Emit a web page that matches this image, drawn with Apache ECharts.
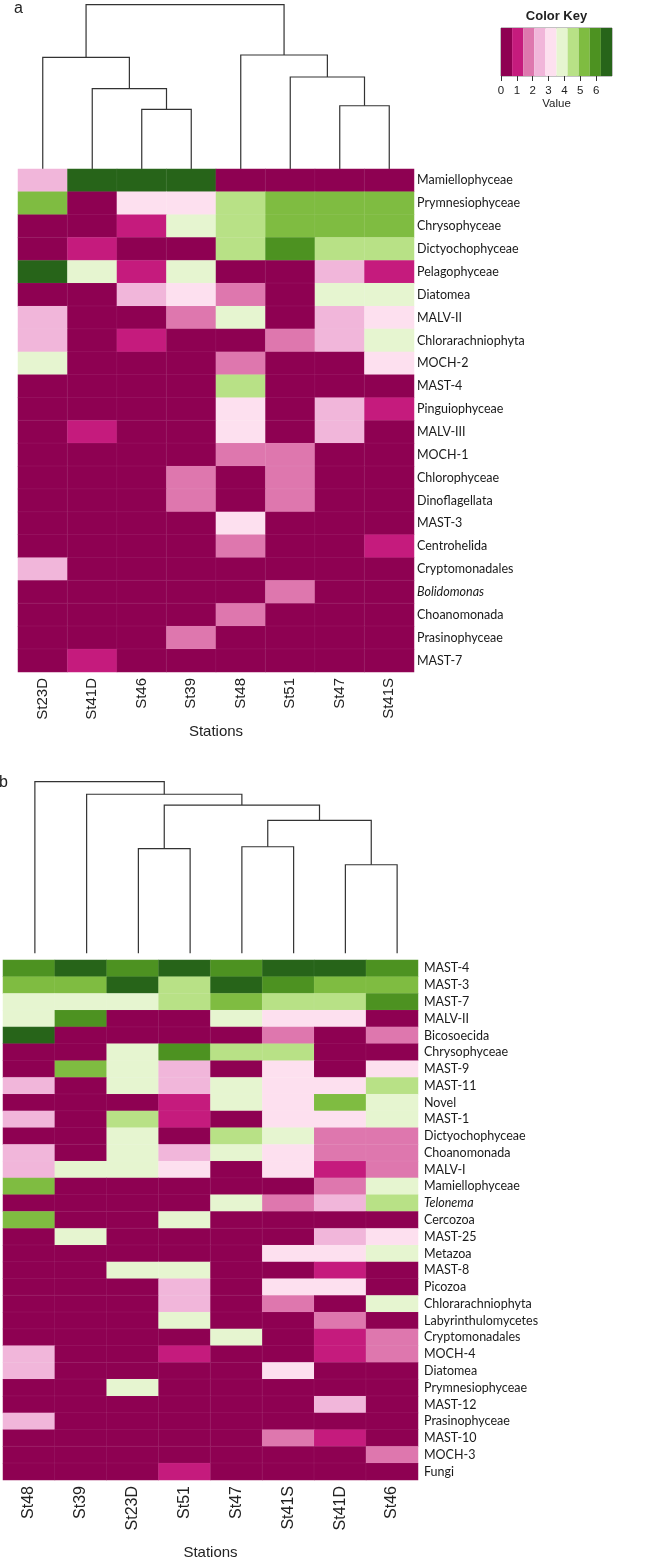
<!DOCTYPE html>
<html>
<head>
<meta charset="utf-8">
<script src="https://cdn.jsdelivr.net/npm/echarts@6/dist/echarts.min.js"></script>
<style>
html,body{margin:0;padding:0;background:#fff;}
#chart{width:664px;height:1561px;}
</style>
</head>
<body>
<div id="chart"></div>
<script>
// ---------- DATA ----------
const stationsA = ['St23D','St41D','St46','St39','St48','St51','St47','St41S'];
const taxaA = ['Mamiellophyceae','Prymnesiophyceae','Chrysophyceae','Dictyochophyceae','Pelagophyceae','Diatomea','MALV-II','Chlorarachniophyta','MOCH-2','MAST-4','Pinguiophyceae','MALV-III','MOCH-1','Chlorophyceae','Dinoflagellata','MAST-3','Centrohelida','Cryptomonadales','Bolidomonas','Choanomonada','Prasinophyceae','MAST-7'];
const valuesA = [
  [2.5,6.7,6.7,6.7,0,0,0,0],
  [5.3,0,3.2,3.2,4.6,5.3,5.3,5.3],
  [0,0,1,3.9,4.6,5.3,5.3,5.3],
  [0,1,0,0,4.6,6,4.6,4.6],
  [6.7,3.9,1,3.9,0,0,2.5,1],
  [0,0,2.5,3.2,1.8,0,3.9,3.9],
  [2.5,0,0,1.8,3.9,0,2.5,3.2],
  [2.5,0,1,0,0,1.8,2.5,3.9],
  [3.9,0,0,0,1.8,0,0,3.2],
  [0,0,0,0,4.6,0,0,0],
  [0,0,0,0,3.2,0,2.5,1],
  [0,1,0,0,3.2,0,2.5,0],
  [0,0,0,0,1.8,1.8,0,0],
  [0,0,0,1.8,0,1.8,0,0],
  [0,0,0,1.8,0,1.8,0,0],
  [0,0,0,0,3.2,0,0,0],
  [0,0,0,0,1.8,0,0,1],
  [2.5,0,0,0,0,0,0,0],
  [0,0,0,0,0,1.8,0,0],
  [0,0,0,0,1.8,0,0,0],
  [0,0,0,1.8,0,0,0,0],
  [0,1,0,0,0,0,0,0]
];
// dendrogram A merges: [left, right, height]; index < 8 = leaf position, >= 8 = earlier merge
const mergesA = [
  [2,3,36.3],   // 8
  [1,8,48.9],   // 9
  [0,9,68.0],   // 10
  [6,7,38.5],   // 11
  [5,11,56.0],  // 12
  [4,12,69.4],  // 13
  [10,13,100]   // 14
];

const stationsB = ['St48','St39','St23D','St51','St47','St41S','St41D','St46'];
const taxaB = ['MAST-4','MAST-3','MAST-7','MALV-II','Bicosoecida','Chrysophyceae','MAST-9','MAST-11','Novel','MAST-1','Dictyochophyceae','Choanomonada','MALV-I','Mamiellophyceae','Telonema','Cercozoa','MAST-25','Metazoa','MAST-8','Picozoa','Chlorarachniophyta','Labyrinthulomycetes','Cryptomonadales','MOCH-4','Diatomea','Prymnesiophyceae','MAST-12','Prasinophyceae','MAST-10','MOCH-3','Fungi'];
const valuesB = [
  [6,6.7,6,6.7,6,6.7,6.7,6],
  [5.3,5.3,6.7,4.6,6.7,6,5.3,5.3],
  [3.9,3.9,3.9,4.6,5.3,4.6,4.6,6],
  [3.9,6,0,0,3.9,3.2,3.2,0],
  [6.7,0,0,0,0,1.8,0,1.8],
  [0,0,3.9,6,4.6,4.6,0,0],
  [0,5.3,3.9,2.5,0,3.2,0,3.2],
  [2.5,0,3.9,2.5,3.9,3.2,3.2,4.6],
  [0,0,0,1,3.9,3.2,5.3,3.9],
  [2.5,0,4.6,1,0,3.2,3.2,3.9],
  [0,0,3.9,0,4.6,3.9,1.8,1.8],
  [2.5,0,3.9,2.5,3.9,3.2,1.8,1.8],
  [2.5,3.9,3.9,3.2,0,3.2,1,1.8],
  [5.3,0,0,0,0,0,1.8,3.9],
  [0,0,0,0,3.9,1.8,2.5,4.6],
  [5.3,0,0,3.9,0,0,0,0],
  [0,3.9,0,0,0,0,2.5,3.2],
  [0,0,0,0,0,3.2,3.2,3.9],
  [0,0,3.9,3.9,0,0,1,0],
  [0,0,0,2.5,0,3.2,3.2,0],
  [0,0,0,2.5,0,1.8,0,3.9],
  [0,0,0,3.9,0,0,1.8,0],
  [0,0,0,0,3.9,0,1,1.8],
  [2.5,0,0,1,0,0,1,1.8],
  [2.5,0,0,0,0,3.2,0,0],
  [0,0,3.9,0,0,0,0,0],
  [0,0,0,0,0,0,2.5,0],
  [2.5,0,0,0,0,0,0,0],
  [0,0,0,0,0,1.8,1,0],
  [0,0,0,0,0,0,0,1.8],
  [0,0,0,1,0,0,0,0]
];
const mergesB = [
  [2,3,61.0],   // 8
  [4,5,62.1],   // 9
  [6,7,51.6],   // 10
  [9,10,77.5],  // 11
  [8,11,86.4],  // 12
  [1,12,92.7],  // 13
  [0,13,100]    // 14
];
const italicTaxa = ['Bolidomonas','Telonema'];

// color key
const keyMin = 0, keyMax = 7, keyBins = 10;
const keyTicks = [0,1,2,3,4,5,6];
const palette = ['#8E0152','#C51B7D','#DE77AE','#F1B6DA','#FDE0EF','#E6F5D0','#B8E186','#7FBC41','#4D9221','#276419'];

// ---------- BUILD ----------
function heatData(vals){
  const out=[];
  vals.forEach((row,r)=>row.forEach((v,c)=>out.push([c,r,v])));
  return out;
}
function dendroSegments(merges, nLeaves){
  const pos=[], ht=[];
  for(let i=0;i<nLeaves;i++){pos.push(i);ht.push(0);}
  const segs=[];
  merges.forEach(m=>{
    const [a,b,h]=m;
    segs.push([pos[a],ht[a],pos[b],ht[b],h]);
    pos.push((pos[a]+pos[b])/2); ht.push(h);
  });
  return segs;
}
const step=(keyMax-keyMin)/keyBins;
const keyData=[]; const pieces=[];
for(let i=0;i<keyBins;i++){
  keyData.push([keyMin+i*step, keyMin+(i+1)*step, i]);
  pieces.push({gte:keyMin+i*step, lt: i===keyBins-1? 1000 : keyMin+(i+1)*step, color:palette[i]});
}

const dendroRender = function(params, api){
  const p1=api.coord([api.value(0),api.value(1)]);
  const p2=api.coord([api.value(0),api.value(4)]);
  const p3=api.coord([api.value(2),api.value(4)]);
  const p4=api.coord([api.value(2),api.value(3)]);
  return {type:'polyline', shape:{points:[p1,p2,p3,p4]}, style:{stroke:'#333', lineWidth:1.2, fill:null}};
};
const keyRender = function(params, api){
  const a=api.coord([api.value(0),1]);
  const b=api.coord([api.value(1),0]);
  return {type:'rect', shape:{x:a[0],y:a[1],width:b[0]-a[0],height:b[1]-a[1]}, style:{fill:palette[api.value(2)]}};
};

const ROWFONT = "Lato";
const ROWSIZE = 12.5;
const rowLabelFmt = v => italicTaxa.includes(v) ? '{i|'+v+'}' : v;
const rowRich = {i:{fontStyle:'italic', fontFamily:ROWFONT, fontSize:ROWSIZE, color:'#1a1a1a'}};
const FONT='Liberation Sans';

const option = {
  animation:false,
  backgroundColor:'#fff',
  grid:[
    {left:18, top:4.7, width:396, height:164.3},
    {left:18, top:169, width:396, height:503},
    {left:9, top:781.7, width:414, height:171.6},
    {left:3, top:960, width:415, height:527},
    {left:501, top:28, width:111, height:48, show:true, borderColor:'#666', borderWidth:0.8, backgroundColor:'transparent'}
  ],
  xAxis:[
    {gridIndex:0, type:'value', min:-0.5, max:7.5, show:false},
    {gridIndex:1, type:'category', data:stationsA, position:'bottom',
      axisLine:{show:false}, axisTick:{show:false}, splitLine:{show:false},
      axisLabel:{interval:0, rotate:90, fontFamily:FONT, fontSize:15, color:'#222', margin:6},
      name:'Stations', nameLocation:'middle', nameGap:52, nameTextStyle:{fontFamily:FONT, fontSize:15, color:'#222'}},
    {gridIndex:2, type:'value', min:-0.5, max:7.5, show:false},
    {gridIndex:3, type:'category', data:stationsB, position:'bottom',
      axisLine:{show:false}, axisTick:{show:false}, splitLine:{show:false},
      axisLabel:{interval:0, rotate:90, fontFamily:FONT, fontSize:16, color:'#222', margin:6},
      name:'Stations', nameLocation:'middle', nameGap:65, nameTextStyle:{fontFamily:FONT, fontSize:15, color:'#222'}},
    {gridIndex:4, type:'value', min:keyMin, max:keyMax, interval:1, position:'bottom',
      axisLine:{show:false}, splitLine:{show:false},
      axisTick:{show:true, length:5, lineStyle:{color:'#333', width:1}, customValues:keyTicks},
      axisLabel:{fontFamily:FONT, fontSize:11.5, color:'#222', margin:9, customValues:keyTicks},
      name:'Value', nameLocation:'middle', nameGap:20, nameTextStyle:{fontFamily:FONT, fontSize:11.5, color:'#222'}}
  ],
  yAxis:[
    {gridIndex:0, type:'value', min:0, max:100, show:false},
    {gridIndex:1, type:'category', data:taxaA, inverse:true, position:'right',
      axisLine:{show:false}, axisTick:{show:false}, splitLine:{show:false},
      axisLabel:{interval:0, fontFamily:ROWFONT, fontSize:ROWSIZE, color:'#1a1a1a', margin:3, formatter:rowLabelFmt, rich:rowRich}},
    {gridIndex:2, type:'value', min:0, max:100, show:false},
    {gridIndex:3, type:'category', data:taxaB, inverse:true, position:'right',
      axisLine:{show:false}, axisTick:{show:false}, splitLine:{show:false},
      axisLabel:{interval:0, fontFamily:ROWFONT, fontSize:ROWSIZE, color:'#1a1a1a', margin:6, formatter:rowLabelFmt, rich:rowRich}},
    {gridIndex:4, type:'value', min:0, max:1, show:false}
  ],
  visualMap:{type:'piecewise', show:false, seriesIndex:[1,3], dimension:2, pieces:pieces},
  series:[
    {type:'custom', xAxisIndex:0, yAxisIndex:0, renderItem:dendroRender, data:dendroSegments(mergesA, stationsA.length), silent:true},
    {type:'heatmap', xAxisIndex:1, yAxisIndex:1, data:heatData(valuesA),
      itemStyle:{borderColor:'rgba(255,255,255,0.1)', borderWidth:0.6}},
    {type:'custom', xAxisIndex:2, yAxisIndex:2, renderItem:dendroRender, data:dendroSegments(mergesB, stationsB.length), silent:true},
    {type:'heatmap', xAxisIndex:3, yAxisIndex:3, data:heatData(valuesB),
      itemStyle:{borderColor:'rgba(255,255,255,0.1)', borderWidth:0.6}},
    {type:'custom', xAxisIndex:4, yAxisIndex:4, renderItem:keyRender, data:keyData, silent:true}
  ],
  graphic:[
    {type:'text', left:14, top:1, style:{text:'a', fontFamily:FONT, fontSize:16, fill:'#222'}},
    {type:'text', left:-1, top:775, style:{text:'b', fontFamily:FONT, fontSize:16, fill:'#222'}},
    {type:'text', x:556.5, y:10, style:{text:'Color Key', fontFamily:FONT, fontWeight:'bold', fontSize:13, fill:'#222', align:'center'}}
  ]
};
const chart = echarts.init(document.getElementById('chart'), null, {renderer:'canvas'});
chart.setOption(option);
</script>
</body>
</html>
